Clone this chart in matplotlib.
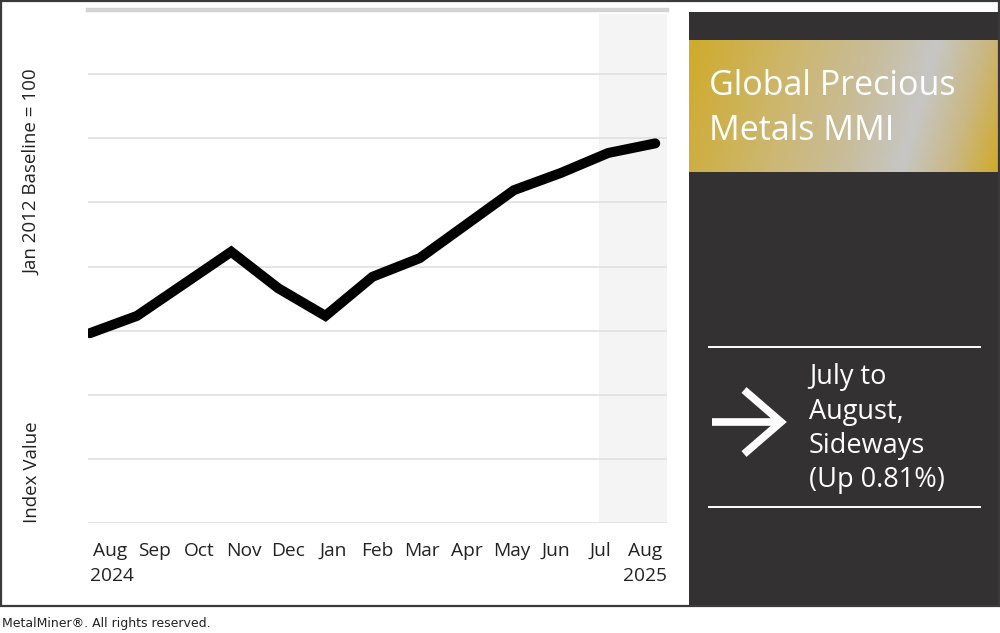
import numpy as np
import matplotlib
matplotlib.use("Agg")
import matplotlib.pyplot as plt
from matplotlib.colors import LinearSegmentedColormap
from matplotlib.lines import Line2D
from matplotlib.patches import Rectangle

plt.rcParams["font.family"] = ["Open Sans", "DejaVu Sans"]

months = ["Aug", "Sep", "Oct", "Nov", "Dec", "Jan", "Feb", "Mar", "Apr", "May", "Jun", "Jul", "Aug"]
index_value = [1596, 1623, 1673, 1723, 1666, 1623, 1684, 1713, 1766, 1819, 1846, 1877, 1892]
grid_vals = np.arange(1300, 2101, 100)
title_lines = ["Global Precious", "Metals MMI"]
change_lines = ["July to", "August,", "Sideways", "(Up 0.81%)"]

W, H = 1000, 633
fig = plt.figure(figsize=(10, 6.33), dpi=100)
fig.patch.set_facecolor("white")


def fx(px):
    return px / W


def fy(py):
    return 1 - py / H


# outer frame
fig.add_artist(Rectangle((fx(1), fy(606)), fx(998), 605 / H, transform=fig.transFigure,
                         fill=False, edgecolor="#3a3a3a", lw=1.6, zorder=5))

# chart
ax = fig.add_axes([fx(88), fy(523), fx(667 - 88), (523 - 10) / H])
x = np.arange(len(months))
ax.set_xlim(-0.04, 12.25)
ax.set_ylim(grid_vals[0], grid_vals[-1])
ax.axvspan(10.8, 12.25, ymin=0, ymax=0.992, color="#f4f4f4", lw=0, zorder=0)
for g in grid_vals[:-1]:
    ax.axhline(g, color="#e2e2e2", lw=1.3, zorder=1)
ax.axhline(grid_vals[-1], color="#d3d3d3", lw=3.2, zorder=1, clip_on=False)
ax.plot(x, index_value, color="black", lw=7.2, solid_capstyle="round",
        solid_joinstyle="miter", zorder=3)
for s in ax.spines.values():
    s.set_visible(False)
ax.set_yticks([])
ax.set_xticks([])
ax.patch.set_alpha(0)

# month labels
lab_pos = np.linspace(0.42, 11.79, len(months))
for p, m in zip(lab_pos, months):
    ax.text(p, -0.055, m, transform=ax.get_xaxis_transform(), ha="center", va="center",
            fontsize=13.8, color="#222222")
ax.text(-0.0, -0.103, "2024", transform=ax.get_xaxis_transform(), ha="left", va="center",
        fontsize=13.8, color="#222222")
ax.text(12.25, -0.103, "2025", transform=ax.get_xaxis_transform(), ha="right", va="center",
        fontsize=13.8, color="#222222")

fig.text(fx(32), fy(172), "Jan 2012 Baseline = 100", rotation=90, ha="center", va="center",
         fontsize=13.5, color="#222222")
fig.text(fx(32), fy(472), "Index Value", rotation=90, ha="center", va="center",
         fontsize=13.5, color="#222222")

# right panel
pax = fig.add_axes([fx(689), fy(605), fx(998 - 689), (605 - 12) / H], zorder=2)
pax.set_facecolor("#333132")
pax.set_xticks([])
pax.set_yticks([])
for s in pax.spines.values():
    s.set_visible(False)

gax = fig.add_axes([fx(689), fy(172), fx(998 - 689), (172 - 40) / H], zorder=3)
gx, gy = np.meshgrid(np.linspace(0, 1, 400), np.linspace(0, 1, 140))
t = (gx + 0.12 * gy) / 1.12
gold = LinearSegmentedColormap.from_list("gold", [
    (0.0, "#cfab2c"), (0.3, "#cdb66c"), (0.55, "#c8bd9c"), (0.72, "#c6c6c4"),
    (0.86, "#cab885"), (1.0, "#d1aa2a")])
gax.imshow(t, cmap=gold, aspect="auto", extent=(0, 1, 0, 1), vmin=0, vmax=1)
gax.set_axis_off()
fig.text(fx(709), fy(86), title_lines[0], ha="left", va="center", fontsize=24.5,
         color="white", zorder=6)
fig.text(fx(709), fy(131), title_lines[1], ha="left", va="center", fontsize=24.5,
         color="white", zorder=6)

# divider lines and arrow
for yy in (347, 507):
    fig.add_artist(Line2D([fx(709), fx(980)], [fy(yy), fy(yy)], color="white", lw=1.4, zorder=6))
fig.add_artist(Line2D([fx(712), fx(779)], [fy(422), fy(422)], color="white", lw=5.5,
                      solid_capstyle="butt", zorder=6))
fig.add_artist(Line2D([fx(744), fx(781), fx(744)], [fy(390), fy(422), fy(454)], color="white",
                      lw=5.5, solid_joinstyle="miter", solid_capstyle="butt", zorder=6))
for i, s in enumerate(change_lines):
    fig.text(fx(809), fy(377 + i * 34.5), s, ha="left", va="center", fontsize=19.5,
             color="white", zorder=6)

fig.text(fx(2), fy(623), "MetalMiner\u00ae. All rights reserved.", ha="left", va="center",
         fontsize=9, color="#222222", family="DejaVu Sans")

fig.savefig("out.png", dpi=100)
